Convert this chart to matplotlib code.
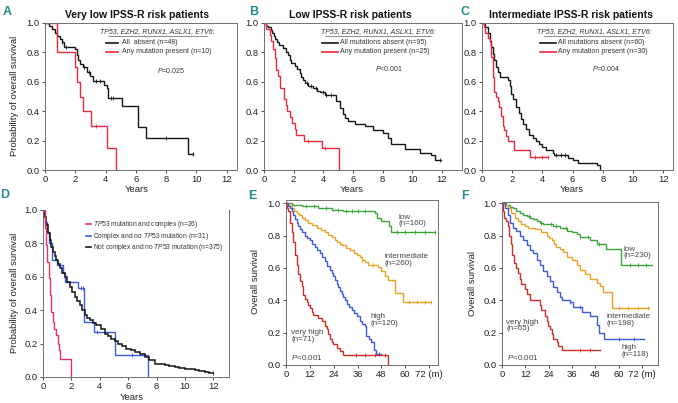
import numpy as np
import matplotlib
matplotlib.use("Agg")
import matplotlib.pyplot as plt
from matplotlib import font_manager
from matplotlib.lines import Line2D

names = {f.name for f in font_manager.fontManager.ttflist}
FONT = "Liberation Sans Narrow" if "Liberation Sans Narrow" in names else "Liberation Sans"
plt.rcParams["font.family"] = [FONT, "DejaVu Sans"]
plt.rcParams["mathtext.fontset"] = "custom"
plt.rcParams["mathtext.rm"] = FONT
plt.rcParams["mathtext.it"] = FONT + ":italic"
plt.rcParams["mathtext.bf"] = FONT + ":bold"

# ---------------- data ----------------
# Panel A (years)
a_abs_t = [0, 0.29, 0.44, 0.66, 0.77, 0.99, 1.10, 1.26, 1.98, 2.09, 2.16, 2.31, 2.53, 2.75, 2.97, 3.15, 3.90, 4.07, 4.14, 4.18, 5.07, 6.12, 6.67, 9.47, 9.80]
a_abs_s = [1.0, 0.98, 0.96, 0.93, 0.91, 0.89, 0.87, 0.84, 0.82, 0.78, 0.75, 0.72, 0.70, 0.67, 0.64, 0.605, 0.58, 0.56, 0.525, 0.49, 0.434, 0.29, 0.216, 0.11, 0.11]
a_abs_c = [1.15, 1.4, 2.6, 2.9, 3.4, 3.6, 4.35, 4.5, 8.0, 9.8]
a_mut_t = [0, 0.78, 1.98, 2.09, 2.31, 2.49, 3.02, 4.12, 4.69]
a_mut_s = [1.0, 0.8, 0.7, 0.6, 0.5, 0.4, 0.3, 0.15, 0.0]
a_mut_c = [3.4]

# Panel B
b_abs_t = [0, 0.15, 0.3, 0.45, 0.55, 0.65, 0.75, 0.85, 1.0, 1.3, 1.45, 1.6, 1.73, 1.85, 2.1, 2.25, 2.4, 2.5, 2.6, 2.75,
           2.95, 3.3, 3.6, 3.8, 4.1, 4.88, 5.1, 5.33, 5.48, 5.66, 6.11, 6.79, 7.35, 8.02, 8.36, 8.58, 9.48, 10.49, 11.28, 11.5, 11.96]
b_abs_s = [1, 0.98, 0.97, 0.95, 0.93, 0.91, 0.89, 0.87, 0.85, 0.83, 0.80, 0.78, 0.75, 0.73, 0.71, 0.69, 0.66, 0.63, 0.61, 0.59,
           0.57, 0.555, 0.54, 0.53, 0.51, 0.47, 0.42, 0.38, 0.355, 0.33, 0.31, 0.30, 0.275, 0.25, 0.22, 0.18, 0.143, 0.116, 0.10, 0.07, 0.07]
b_abs_c = [2.9, 3.2, 3.5, 4.0, 4.2, 4.5, 11.9]
b_mut_t = [0, 0.16, 0.38, 0.5, 0.6, 0.72, 0.83, 0.95, 1.06, 1.35, 1.47, 1.58, 1.74, 1.92, 2.08, 2.19, 2.69, 3.88, 5.06]
b_mut_s = [1, 0.96, 0.92, 0.88, 0.82, 0.76, 0.68, 0.64, 0.56, 0.48, 0.44, 0.40, 0.36, 0.32, 0.28, 0.24, 0.20, 0.15, 0.0]
b_mut_c = [3.0, 4.1]

# Panel C
c_abs_t = [0, 0.22, 0.38, 0.5, 0.6, 0.7, 0.82, 0.93, 1.04, 1.17, 1.75, 1.85, 1.95, 2.05, 2.25, 2.47, 2.6, 2.7, 2.9, 3.13,
           3.36, 3.58, 3.8, 4.0, 4.24, 4.68, 4.8, 5.7, 6.0, 6.33, 7.1, 7.6, 7.8]
c_abs_s = [1, 0.97, 0.93, 0.88, 0.84, 0.79, 0.75, 0.70, 0.67, 0.635, 0.61, 0.57, 0.52, 0.48, 0.43, 0.39, 0.35, 0.31, 0.28, 0.24,
           0.22, 0.20, 0.18, 0.155, 0.135, 0.115, 0.10, 0.08, 0.07, 0.05, 0.045, 0.035, 0.0]
c_abs_c = [4.9, 5.2, 5.5]
c_mut_t = [0, 0.1, 0.22, 0.38, 0.5, 0.6, 0.7, 0.82, 0.93, 1.04, 1.15, 1.26, 1.37, 1.48, 1.6, 1.72, 2.1, 3.16, 4.37]
c_mut_s = [1, 0.97, 0.93, 0.90, 0.87, 0.77, 0.63, 0.53, 0.50, 0.47, 0.43, 0.37, 0.30, 0.27, 0.23, 0.20, 0.135, 0.086, 0.086]
c_mut_c = [3.5, 4.0, 4.37]

# Panel D
d_tp53_t = [0, 0.12, 0.23, 0.28, 0.4, 0.5, 0.59, 0.68, 0.8, 0.94, 1.03, 1.15, 1.22, 2.0]
d_tp53_s = [1, 0.89, 0.79, 0.69, 0.59, 0.49, 0.39, 0.33, 0.29, 0.25, 0.20, 0.16, 0.11, 0.0]
d_cplx_t = [0, 0.05, 0.16, 0.28, 0.45, 0.63, 0.98, 1.4, 1.55, 2.5, 2.9, 3.6, 5.04, 7.43]
d_cplx_s = [1, 0.97, 0.93, 0.87, 0.80, 0.70, 0.67, 0.62, 0.57, 0.53, 0.33, 0.27, 0.13, 0.0]
d_cplx_c = [2.7, 2.8, 3.8, 6.3]
d_none_t = [0, 0.1, 0.23, 0.35, 0.47, 0.58, 0.7, 0.82, 0.94, 1.05, 1.17, 1.35, 1.53, 1.7, 1.88, 2.05, 2.23, 2.4, 2.58, 2.75,
            2.93, 3.1, 3.29, 3.5, 3.76, 4.05, 4.34, 4.57, 4.8, 5.05, 5.28, 5.58, 5.87, 6.17, 6.46, 6.8, 7.16, 7.5, 7.86, 8.2,
            8.57, 8.9, 9.27, 9.6, 9.98, 10.3, 10.68, 11.0, 11.4, 11.7, 12.0]
d_none_s = [1, 0.96, 0.91, 0.865, 0.82, 0.78, 0.75, 0.725, 0.70, 0.675, 0.65, 0.625, 0.60, 0.57, 0.54, 0.51, 0.48, 0.455, 0.43, 0.40,
            0.37, 0.355, 0.34, 0.325, 0.31, 0.285, 0.26, 0.245, 0.23, 0.215, 0.20, 0.185, 0.17, 0.16, 0.15, 0.135, 0.12, 0.10, 0.08, 0.075,
            0.07, 0.065, 0.06, 0.055, 0.05, 0.045, 0.04, 0.035, 0.03, 0.025, 0.025]

# Panel E (months)
e_low_t = [0, 2.8, 7.9, 16, 23, 28.8, 38, 44.7, 45.6, 48, 52, 53, 75]
e_low_s = [1, 0.99, 0.98, 0.97, 0.96, 0.955, 0.95, 0.94, 0.91, 0.89, 0.86, 0.825, 0.825]
e_low_c = [10, 14, 20, 26, 30, 33, 36, 40, 56, 60, 65, 70, 75]
e_int_t = [0, 1.5, 2.8, 4, 5.4, 6.5, 7.9, 9.5, 11.2, 13, 15.4, 17.5, 19.6, 21.3, 23, 24.5, 25.5, 27, 28, 30,
           32, 34, 35.5, 37, 38, 40, 41.4, 46.4, 48, 49.7, 51.4, 54.7, 59, 73]
e_int_s = [1, 0.985, 0.97, 0.955, 0.94, 0.925, 0.91, 0.895, 0.88, 0.865, 0.85, 0.835, 0.82, 0.805, 0.79, 0.775, 0.76, 0.75, 0.74, 0.725,
           0.71, 0.695, 0.68, 0.665, 0.65, 0.635, 0.62, 0.605, 0.58, 0.55, 0.525, 0.445, 0.39, 0.39]
e_int_c = [38, 44, 62, 66, 70, 73]
e_high_t = [0, 1, 2, 3, 3.7, 4.5, 5.4, 6.2, 7, 8.2, 9.5, 10.8, 12, 13.3, 14.6, 15.8, 17, 18.3, 19.6, 20.8,
            22, 22.9, 23.8, 24.7, 25.5, 26.3, 27, 28, 28.8, 29.7, 30.5, 31.8, 33, 34.3, 35.5, 37, 38.5, 39.7, 40.5, 42,
            43, 44.5, 45.5, 48]
e_high_s = [1, 0.985, 0.97, 0.95, 0.93, 0.905, 0.88, 0.86, 0.84, 0.82, 0.80, 0.785, 0.77, 0.75, 0.73, 0.71, 0.69, 0.665, 0.64, 0.615,
            0.59, 0.57, 0.55, 0.525, 0.50, 0.48, 0.46, 0.44, 0.42, 0.40, 0.38, 0.36, 0.34, 0.32, 0.30, 0.27, 0.255, 0.24, 0.18, 0.16,
            0.14, 0.09, 0.065, 0.065]
e_high_c = [47]
e_vh_t = [0, 0.5, 1.2, 2, 2.85, 3.7, 4.5, 5.4, 6.2, 7, 7.9, 8.7, 9.5, 10.4, 11.2, 12.1, 13, 13.8, 16.3, 18,
          19.6, 20.5, 21.3, 22.1, 23, 23.8, 25.5, 27.2, 28.9, 51.5]
e_vh_s = [1, 0.97, 0.95, 0.88, 0.82, 0.76, 0.68, 0.62, 0.56, 0.52, 0.49, 0.43, 0.41, 0.39, 0.37, 0.35, 0.33, 0.31, 0.29, 0.27,
          0.24, 0.22, 0.19, 0.16, 0.145, 0.13, 0.105, 0.084, 0.064, 0.0]
e_vh_c = [35, 40, 45, 50]

# Panel F (months)
f_low_t = [0, 2.2, 4, 5.7, 7.4, 9.1, 10.9, 12.6, 14.3, 16, 17.8, 19.5, 21, 23, 26.4, 29.8, 33.3, 36, 38.4, 40, 45, 48.8, 53.5, 61, 77]
f_low_s = [1, 0.99, 0.98, 0.97, 0.955, 0.94, 0.93, 0.92, 0.91, 0.90, 0.89, 0.88, 0.875, 0.87, 0.86, 0.85, 0.83, 0.82, 0.81, 0.79, 0.77, 0.75, 0.72, 0.62, 0.62]
f_low_c = [14, 20, 25, 28, 33, 40, 44, 50, 66, 70, 74]
f_int_t = [0, 1.4, 3.1, 4.8, 6.5, 8.3, 10, 11.7, 13.4, 16.9, 20.3, 23, 24.2, 25.5, 26.8, 28, 29.7, 31.5, 33.3, 35.9,
           38.4, 40.2, 42.8, 45.3, 48.8, 50.5, 52, 56.6, 75.5]
f_int_s = [1, 0.99, 0.97, 0.94, 0.91, 0.89, 0.87, 0.86, 0.85, 0.84, 0.82, 0.80, 0.785, 0.77, 0.75, 0.73, 0.715, 0.70, 0.67, 0.65,
           0.62, 0.59, 0.56, 0.53, 0.51, 0.49, 0.45, 0.35, 0.35]
f_int_c = [60, 65, 70, 75]
f_high_t = [0, 1.4, 3.1, 4, 5.7, 7.4, 9.1, 10.9, 12.6, 14.3, 16, 17.8, 19.5, 21.2, 23, 24.7, 26.4, 28.1, 29.8, 30.7,
            35, 36.7, 41, 45.3, 48.8, 49.7, 52.2, 73]
f_high_s = [1, 0.97, 0.93, 0.88, 0.85, 0.83, 0.80, 0.77, 0.74, 0.71, 0.69, 0.65, 0.62, 0.58, 0.55, 0.52, 0.48, 0.45, 0.42, 0.40,
            0.39, 0.36, 0.33, 0.30, 0.25, 0.20, 0.16, 0.16]
f_high_c = [35, 40, 60, 68]
f_vh_t = [0, 0.5, 1, 2.2, 3.1, 3.6, 4.5, 5.3, 6.2, 7.1, 8.3, 9.1, 10, 11.7, 12.9, 14.3, 18.6, 19.5, 20.3, 22,
          23, 23.8, 24.7, 25.5, 26.4, 28.1, 29, 30.7, 50.5]
f_vh_s = [1, 0.95, 0.91, 0.89, 0.86, 0.80, 0.75, 0.68, 0.63, 0.60, 0.57, 0.53, 0.50, 0.47, 0.44, 0.405, 0.40, 0.37, 0.34, 0.30,
          0.27, 0.24, 0.22, 0.19, 0.16, 0.14, 0.12, 0.095, 0.095]
f_vh_c = [40, 45]

year_ticks = [0, 2, 4, 6, 8, 10, 12]
month_ticks = [0, 12, 24, 36, 48, 60, 72]
month_labels = ["0", "12", "24", "36", "48", "60", "72 (m)"]
surv_ticks = [0.0, 0.2, 0.4, 0.6, 0.8, 1.0]

# ---------------- styling ----------------
W, H = 678, 403
BLACK = "#151515"
RED = "#e8283c"
PINK = "#e8305a"
BLUE = "#3a5ad8"
GREEN = "#3aa53a"
ORANGE = "#eaa222"
DRED = "#cc2e26"
TEAL = "#1d8c8c"
SPINE = "#707070"
TXT = "#333333"

fig = plt.figure(figsize=(W / 100, H / 100), dpi=100)


def add_ax(l, t, r, b):
    return fig.add_axes([l / W, 1 - b / H, (r - l) / W, (b - t) / H])


def ftext(x, y, s, **kw):
    fig.text(x / W, 1 - y / H, s, **kw)


def km(ax, t, s, color, cens=None, lw=1.0):
    t = np.asarray(t, float)
    s = np.asarray(s, float)
    ax.plot(t, s, drawstyle="steps-post", color=color, lw=lw, solid_joinstyle="miter")
    if cens:
        c = np.asarray(cens, float)
        idx = np.searchsorted(t, c, side="right") - 1
        ax.plot(c, s[idx], ls="none", marker="|", ms=2.8, mew=0.6, color=color)


def style(ax, xmax, ymax, xticks, xlabels=None):
    ax.set_xlim(0, xmax)
    ax.set_ylim(0, ymax)
    ax.set_xticks(xticks)
    if xlabels is not None:
        ax.set_xticklabels(xlabels)
    ax.set_yticks(surv_ticks)
    ax.set_yticklabels([f"{v:.1f}" for v in surv_ticks])
    ax.tick_params(direction="out", length=2.5, width=0.6, pad=1.2, labelsize=6.8,
                   colors=TXT, labelcolor="#222222")
    for sp in ax.spines.values():
        sp.set_color(SPINE)
        sp.set_linewidth(0.7)


def header(ax, x0, x1, y, text):
    ax.text((x0 + x1) / 2, y, text, transform=ax.transAxes, ha="center", va="center",
            fontsize=5.0, style="italic", color=TXT)
    ax.add_line(Line2D([x0, x1], [y - 0.03, y - 0.03], transform=ax.transAxes, color=TXT, lw=0.4))


def legend_entry(ax, x0, x1, xt, y, color, text, fs=5.0):
    ax.add_line(Line2D([x0, x1], [y, y], transform=ax.transAxes, color=color, lw=1.2))
    ax.text(xt, y, text, transform=ax.transAxes, ha="left", va="center", fontsize=fs, color=TXT)


# ---------------- Panel A ----------------
axA = add_ax(45, 23, 237, 170)
km(axA, a_abs_t, a_abs_s, BLACK, a_abs_c)
km(axA, a_mut_t, a_mut_s, RED, a_mut_c)
style(axA, 12.68, 1.0, year_ticks)
header(axA, 0.328, 0.844, 0.939, "TP53, EZH2, RUNX1, ASLX1, ETV6:")
legend_entry(axA, 0.318, 0.38, 0.401, 0.864, BLACK, "All  absent (n=48)")
legend_entry(axA, 0.318, 0.38, 0.401, 0.803, RED, "Any mutation present (n=10)")
axA.text(0.583, 0.68, r"$\mathit{P}$=0.025", transform=axA.transAxes, fontsize=5.0, color=TXT, va="center")

# ---------------- Panel B ----------------
axB = add_ax(264, 23, 462, 170)
km(axB, b_abs_t, b_abs_s, BLACK, b_abs_c)
km(axB, b_mut_t, b_mut_s, RED, b_mut_c)
style(axB, 13.35, 1.0, year_ticks)
header(axB, 0.31, 0.845, 0.939, "TP53, EZH2, RUNX1, ASLX1, ETV6:")
legend_entry(axB, 0.293, 0.374, 0.384, 0.864, BLACK, "All mutations absent (n=95)")
legend_entry(axB, 0.293, 0.374, 0.384, 0.803, RED, "Any mutation present (n=25)")
axB.text(0.56, 0.69, r"$\mathit{P}$<0.001", transform=axB.transAxes, fontsize=5.0, color=TXT, va="center")

# ---------------- Panel C ----------------
axC = add_ax(482, 23, 673, 170)
km(axC, c_abs_t, c_abs_s, BLACK, c_abs_c)
km(axC, c_mut_t, c_mut_s, RED, c_mut_c)
style(axC, 12.65, 1.0, year_ticks)
header(axC, 0.325, 0.85, 0.939, "TP53, EZH2, RUNX1, ASLX1, ETV6:")
legend_entry(axC, 0.304, 0.387, 0.398, 0.864, BLACK, "All mutations absent (n=60)")
legend_entry(axC, 0.304, 0.387, 0.398, 0.803, RED, "Any mutation present (n=30)")
axC.text(0.576, 0.69, r"$\mathit{P}$=0.004", transform=axC.transAxes, fontsize=5.0, color=TXT, va="center")

# ---------------- Panel D ----------------
axD = add_ax(43, 210, 229, 377)
km(axD, d_cplx_t, d_cplx_s, BLUE, d_cplx_c)
km(axD, d_none_t, d_none_s, BLACK, [12.0], lw=1.1)
km(axD, d_tp53_t, d_tp53_s, PINK)
style(axD, 13.1, 1.0, year_ticks)
axD.spines["top"].set_visible(False)
legend_entry(axD, 0.231, 0.258, 0.269, 0.916, PINK, r"$\mathit{TP53}$ mutation and complex (n=26)", fs=4.8)
legend_entry(axD, 0.231, 0.258, 0.269, 0.844, BLUE, r"Complex and no $\mathit{TP53}$ mutation (n=31)", fs=4.8)
legend_entry(axD, 0.231, 0.258, 0.269, 0.778, BLACK, r"Not complex and no $\mathit{TP53}$ mutation (n=375)", fs=4.8)

# ---------------- Panel E ----------------
axE = add_ax(286, 200, 438, 365)
km(axE, e_low_t, e_low_s, GREEN, e_low_c)
km(axE, e_int_t, e_int_s, ORANGE, e_int_c)
km(axE, e_high_t, e_high_s, BLUE, e_high_c)
km(axE, e_vh_t, e_vh_s, DRED, e_vh_c)
style(axE, 76.5, 1.02, month_ticks, month_labels)
lab = dict(transform=axE.transAxes, fontsize=5.8, color="#444444", va="center", ha="left", linespacing=0.95)
axE.text(0.737, 0.876, "low\n(n=160)", **lab)
axE.text(0.651, 0.636, "intermediate\n(n=260)", **lab)
axE.text(0.553, 0.273, "high\n(n=120)", **lab)
axE.text(0.033, 0.176, "very high\n(n=71)", **lab)
axE.text(0.033, 0.048, r"$\mathit{P}$<0.001", **lab)

# ---------------- Panel F ----------------
axF = add_ax(502, 202, 658, 365)
km(axF, f_low_t, f_low_s, GREEN, f_low_c)
km(axF, f_int_t, f_int_s, ORANGE, f_int_c)
km(axF, f_high_t, f_high_s, BLUE, f_high_c)
km(axF, f_vh_t, f_vh_s, DRED, f_vh_c)
style(axF, 80.2, 1.008, month_ticks, month_labels)
lab = dict(transform=axF.transAxes, fontsize=5.8, color="#444444", va="center", ha="left", linespacing=0.95)
axF.text(0.782, 0.69, "low\n(n=230)", **lab)
axF.text(0.673, 0.276, "intermediate\n(n=198)", **lab)
axF.text(0.763, 0.086, "high\n(n=118)", **lab)
axF.text(0.026, 0.242, "very high\n(n=65)", **lab)
axF.text(0.032, 0.043, r"$\mathit{P}$<0.001", **lab)

# ---------------- figure texts ----------------
tkw = dict(ha="center", va="center", fontsize=7.5, fontweight="bold", color="#111111")
ftext(137, 15, "Very low IPSS-R risk patients", **tkw)
ftext(350, 15, "Low IPSS-R risk patients", **tkw)
ftext(571, 15, "Intermediate IPSS-R risk patients", **tkw)

pkw = dict(ha="center", va="center", fontsize=9, fontweight="bold", color=TEAL)
ftext(7, 12, "A", **pkw)
ftext(254, 12, "B", **pkw)
ftext(465, 12, "C", **pkw)
ftext(5, 195, "D", **pkw)
ftext(252, 196, "E", **pkw)
ftext(465, 196, "F", **pkw)

ykw = dict(ha="center", va="center", rotation=90, fontsize=6.8, color="#222222")
ftext(15, 96, "Probability of overall survival", **ykw)
ftext(15, 293, "Probability of overall survival", **ykw)
ftext(256, 282, "Overall survival", **ykw)
ftext(472, 284, "Overall survival", **ykw)

xkw = dict(ha="center", va="center", fontsize=6.8, color="#222222")
ftext(137, 190, "Years", **xkw)
ftext(352, 190, "Years", **xkw)
ftext(572, 190, "Years", **xkw)
ftext(132, 397, "Years", **xkw)

fig.savefig("out.png", dpi=100)
